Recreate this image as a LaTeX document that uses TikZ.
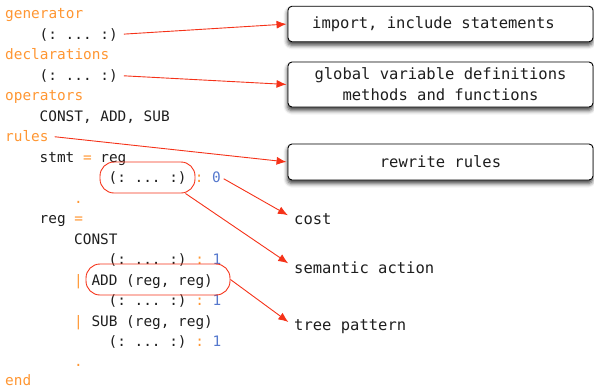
\documentclass[tikz,border=0pt]{standalone}
\usepackage{fontspec}
\setmonofont{DejaVu Sans Mono}
\usetikzlibrary{arrows.meta,shadows.blur}
\definecolor{kwc}{RGB}{255,150,50}
\definecolor{numc}{RGB}{85,120,205}
\definecolor{ink}{RGB}{30,30,30}
\definecolor{arrc}{RGB}{245,50,25}
\newcommand\K[1]{\textcolor{kwc}{#1}}
\newcommand\N[1]{\textcolor{numc}{#1}}
\begin{document}
\begin{tikzpicture}[x=1pt,y=-1pt,
  code/.style={anchor=base west, inner sep=0pt,
    font=\fontsize{14.4}{20.5}\selectfont\ttfamily, text=ink},
  note/.style={font=\fontsize{15.5}{21}\selectfont\ttfamily, text=ink},
  label/.style={note, anchor=base west, inner sep=0pt},
  infobox/.style={note, draw=black, line width=0.9pt, rounded corners=4pt,
    fill=white, minimum width=305pt, align=center, inner sep=0pt,
    blur shadow={shadow xshift=-0.5pt, shadow yshift=-3.5pt,
      shadow blur radius=4pt, shadow opacity=75}},
  ring/.style={draw=arrc, line width=0.9pt, rounded corners=14pt, inner sep=0pt},
  pointer/.style={draw=arrc, line width=0.9pt, shorten <=6pt, shorten >=1pt,
    -{Latex[length=10pt,width=8pt]}}]
\useasboundingbox (0,0) rectangle (594,389);

% source listing, one node per line (column c -> x = 5 + 8.62c)
\node[code] (l0)  at (5,18.5)      {\K{generator}};
\node[code] (l1)  at (39.5,39)     {(: ... :)};
\node[code] (l2)  at (5,59.5)      {\K{declarations}};
\node[code] (l3)  at (39.5,80)     {(: ... :)};
\node[code] (l4)  at (5,100.5)     {\K{operators}};
\node[code] (l5)  at (39.5,121)    {CONST, ADD, SUB};
\node[code] (l6)  at (5,141.5)     {\K{rules}};
\node[code] (l7)  at (39.5,162)    {stmt \K{=} reg};
\node[code] (l8)  at (108.4,182.5) {(: ... :)};
\node[code] (l8b) at (186,182.5)   {\ \K{:} \N{0}};
\node[code] (l9)  at (74,203)      {\K{.}};
\node[code] (l10) at (39.5,223.5)  {reg \K{=}};
\node[code] (l11) at (74,244)      {CONST};
\node[code] (l12) at (108.4,264.5) {(: ... :) \K{:} \N{1}};
\node[code] (l13) at (74,285)      {\K{|} ADD (reg, reg)};
\node[code] (l14) at (108.4,305.5) {(: ... :) \K{:} \N{1}};
\node[code] (l15) at (74,326)      {\K{|} SUB (reg, reg)};
\node[code] (l16) at (108.4,346.5) {(: ... :) \K{:} \N{1}};
\node[code] (l17) at (74,366.5)    {\K{.}};
\node[code] (l18) at (5,385.5)     {\K{end}};

% highlighted fragments
\node[ring, minimum width=95pt, minimum height=31pt]  (act) at (147.5,177.5) {};
\node[ring, minimum width=144pt, minimum height=31pt] (pat) at (158,279.5) {};

% explanation boxes
\node[infobox, minimum height=35.5pt] (imp) at (440.5,24)
  {\hspace*{-14pt}import, include statements};
\node[infobox, minimum height=45pt] (glob) at (440.5,84.5)
  {global variable definitions\\methods and functions};
\node[infobox, minimum height=36pt] (rew) at (440.5,162) {rewrite rules};

% plain labels
\node[label] (cost) at (294,224) {cost};
\node[label] (sem)  at (294,273) {semantic action};
\node[label] (tree) at (294,330) {tree pattern};

% connectors
\draw[pointer] (l1.east) -- (imp.west);
\draw[pointer] (l3.east) -- (glob.west);
\draw[pointer] (l6.east) -- (rew.west);
\draw[pointer, shorten <=3pt, shorten >=7pt] (l8b.east) -- (cost.west);
\draw[pointer, shorten <=0pt, shorten >=7pt] ([xshift=-10pt]act.south east) -- (sem.west);
\draw[pointer, shorten <=0pt, shorten >=7pt] (pat.east) -- (tree.west);
\end{tikzpicture}
\end{document}
